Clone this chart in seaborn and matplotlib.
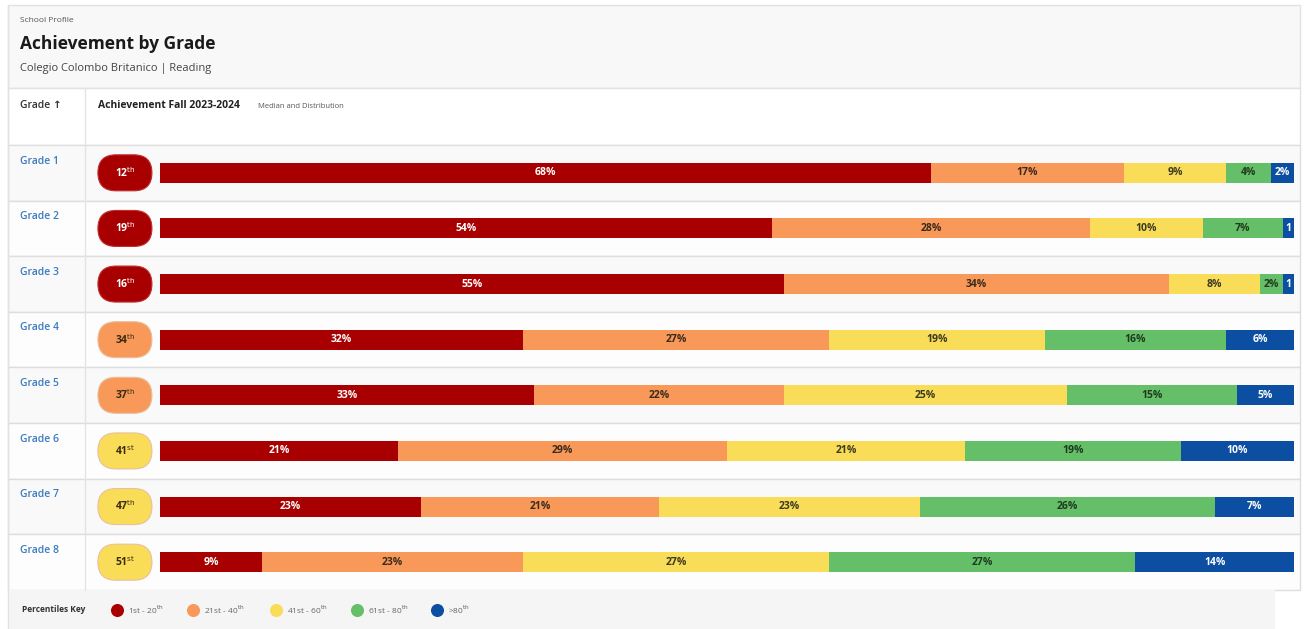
import numpy as np
import pandas as pd
import seaborn as sns
import matplotlib.pyplot as plt
from matplotlib.patches import FancyBboxPatch, Rectangle
from matplotlib.transforms import ScaledTranslation

# data
grades = ['Grade 1', 'Grade 2', 'Grade 3', 'Grade 4', 'Grade 5', 'Grade 6', 'Grade 7', 'Grade 8']
medians = ['12th', '19th', '16th', '34th', '37th', '41st', '47th', '51st']
median_band = [0, 0, 0, 1, 1, 2, 2, 2]
band_names = ['1st - 20th', '21st - 40th', '41st - 60th', '61st - 80th', '>80th']
p_1_20 = [68, 54, 55, 32, 33, 21, 23, 9]
p_21_40 = [17, 28, 34, 27, 22, 29, 21, 23]
p_41_60 = [9, 10, 8, 19, 25, 21, 23, 27]
p_61_80 = [4, 7, 2, 16, 15, 19, 26, 27]
p_80_up = [2, 1, 1, 6, 5, 10, 7, 14]

colors = ['#A80000', '#F8995A', '#F9DC58', '#64BF68', '#0B4EA2']
text_colors = ['white', '#3a2a1a', '#3a3a20', '#1f3a1f', 'white']

sns.set_theme(style='white')
plt.rcParams['font.family'] = ['Open Sans', 'DejaVu Sans']

df = pd.DataFrame({'grade': grades, 'b0': p_1_20, 'b1': p_21_40, 'b2': p_41_60,
                   'b3': p_61_80, 'b4': p_80_up})
bands = ['b0', 'b1', 'b2', 'b3', 'b4']
cum = df[bands].cumsum(axis=1)

fig = plt.figure(figsize=(13.05, 6.29), dpi=100)
fig.patch.set_facecolor('white')

# background / table chrome in pixel coordinates
bg = fig.add_axes([0, 0, 1, 1])
bg.set_xlim(0, 1305)
bg.set_ylim(629, 0)
bg.axis('off')

row_top, row_h = 145, 55.6
bg.add_patch(Rectangle((8, 5), 1292, 83, fc='#f8f8f8', ec='#e2e2e2', lw=1))
bg.add_patch(Rectangle((8, 88), 1292, 57, fc='white', ec='#e2e2e2', lw=1))
for i in range(len(grades)):
    y0 = row_top + row_h * i
    bg.add_patch(Rectangle((8, y0), 1292, row_h, fc='#f9f9f9' if i % 2 == 0 else '#fdfdfd',
                           ec='#dedede', lw=1))
bg.plot([85, 85], [88, 590], color='#e4e4e4', lw=1)
bg.add_patch(Rectangle((8, 590), 1267, 39, fc='#f5f5f5', ec='none'))
bg.plot([8, 8], [5, 629], color='#e2e2e2', lw=1)

bg.text(20, 21, 'School Profile', fontsize=6, color='#555555', va='center')
bg.text(20, 44, 'Achievement by Grade', fontsize=12.5, fontweight='bold', color='#1a1a1a', va='center')
bg.text(20, 68, 'Colegio Colombo Britanico | Reading', fontsize=8, color='#444444', va='center')
bg.text(20, 106, 'Grade \u2191', fontsize=7.5, fontweight='semibold', color='#333333', va='center')
bg.text(98, 106, 'Achievement Fall 2023-2024', fontsize=7.5, fontweight='bold', color='#222222', va='center')
bg.text(258, 106.5, 'Median and Distribution', fontsize=5.5, color='#555555', va='center')
for i, g in enumerate(grades):
    bg.text(20, row_top + row_h * i + 16, g, fontsize=7.5, fontweight='semibold',
            color='#3b7bbf', va='center')

# legend
bg.text(22, 610, 'Percentiles Key', fontsize=6, fontweight='bold', color='#333333', va='center')
leg_x = [117, 193, 276, 357, 437]
for x, c, name in zip(leg_x, colors, band_names):
    bg.scatter([x], [610], s=70, color=c, zorder=3)
    if name.endswith('th'):
        bg.text(x + 11, 610, name[:-2] + '$^{\\rm th}$', fontsize=6, color='#666666', va='center')
    else:
        bg.text(x + 11, 610, name, fontsize=6, color='#666666', va='center')

# stacked bars
ax = fig.add_axes([8 / 1305, 1 - 590 / 629, 1292 / 1305, 445 / 629])
ax.patch.set_alpha(0)
for k in reversed(range(len(bands))):
    sns.barplot(x=cum[bands[k]], y=df['grade'], orient='h', color=colors[k],
                width=0.36, saturation=1, ax=ax, linewidth=0)

for i in range(len(grades)):
    left = 0
    for k, b in enumerate(bands):
        v = df.loc[i, b]
        lab = f'{v}%' if v > 1 else f'{v}'
        ax.text(left + v / 2, i, lab, ha='center', va='center', fontsize=7.5,
                fontweight='bold', color=text_colors[k])
        left += v

ax.set_xlim(-13.40, 100.53)
ax.set_ylim(len(grades) - 0.5, -0.5)
ax.axis('off')

# median pills
for i, (m, band) in enumerate(zip(medians, median_band)):
    trans = fig.dpi_scale_trans + ScaledTranslation(-3.09, i, ax.transData)
    pill = FancyBboxPatch((-0.27, -0.18), 0.54, 0.36, boxstyle='round,pad=0,rounding_size=0.18',
                          fc=colors[band], ec='#e8c0a0' if band else '#c03030', lw=0.8,
                          transform=trans, zorder=4)
    ax.add_patch(pill)
    tc = 'white' if band == 0 else '#3a2a10'
    ax.text(-3.09, i, m[:-2] + '$^{\\rm ' + m[-2:] + '}$', ha='center', va='center',
            fontsize=7.5, fontweight='bold', color=tc, zorder=5)

fig.savefig('out.png', dpi=100)
